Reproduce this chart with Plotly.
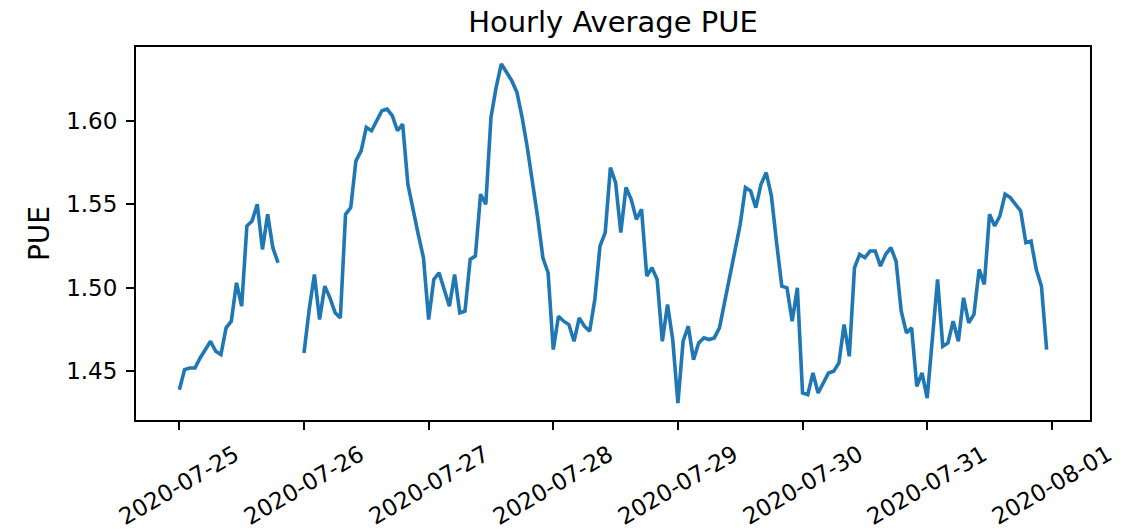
import pandas as pd
import plotly.graph_objects as go

# Hourly average PUE, 2020-07-25 00:00 .. 2020-07-31 23:00 (None = missing hour)
pue_0725 = [1.439, 1.451, 1.452, 1.452, 1.458, 1.463, 1.468, 1.462, 1.460, 1.476, 1.480, 1.503,
            1.489, 1.537, 1.540, 1.550, 1.523, 1.544, 1.524, 1.515, None, None, None, None]
pue_0726 = [1.461, 1.487, 1.508, 1.481, 1.501, 1.494, 1.485, 1.482, 1.544, 1.548, 1.576, 1.582,
            1.596, 1.594, 1.600, 1.606, 1.607, 1.603, 1.594, 1.598, 1.562, 1.546, 1.532, 1.518]
pue_0727 = [1.481, 1.505, 1.509, 1.499, 1.489, 1.508, 1.485, 1.486, 1.517, 1.519, 1.556, 1.550,
            1.602, 1.620, 1.634, 1.629, 1.624, 1.617, 1.602, 1.584, 1.564, 1.542, 1.518, 1.509]
pue_0728 = [1.463, 1.483, 1.480, 1.478, 1.468, 1.482, 1.477, 1.474, 1.493, 1.525, 1.533, 1.572,
            1.563, 1.533, 1.560, 1.553, 1.541, 1.547, 1.507, 1.512, 1.505, 1.468, 1.490, 1.469]
pue_0729 = [1.431, 1.468, 1.477, 1.457, 1.467, 1.470, 1.469, 1.470, 1.476, 1.491, 1.507, 1.522,
            1.538, 1.560, 1.558, 1.548, 1.562, 1.569, 1.555, 1.527, 1.501, 1.500, 1.480, 1.500]
pue_0730 = [1.437, 1.436, 1.449, 1.437, 1.443, 1.449, 1.450, 1.455, 1.478, 1.459, 1.512, 1.520,
            1.518, 1.522, 1.522, 1.513, 1.520, 1.524, 1.516, 1.486, 1.473, 1.476, 1.441, 1.449]
pue_0731 = [1.434, 1.471, 1.505, 1.465, 1.467, 1.480, 1.468, 1.494, 1.479, 1.484, 1.511, 1.502,
            1.544, 1.537, 1.543, 1.556, 1.554, 1.550, 1.546, 1.527, 1.528, 1.511, 1.501, 1.463]

x_tick_labels = ["2020-07-25", "2020-07-26", "2020-07-27", "2020-07-28",
                 "2020-07-29", "2020-07-30", "2020-07-31", "2020-08-01"]
y_tick_values = [1.45, 1.50, 1.55, 1.60]

pue = pue_0725 + pue_0726 + pue_0727 + pue_0728 + pue_0729 + pue_0730 + pue_0731
times = pd.date_range("2020-07-25 00:00", periods=len(pue), freq="h")

# matplotlib-like 5% margins
t0, t1 = times[0], times[-1]
pad_t = (t1 - t0) * 0.05
vals = [v for v in pue if v is not None]
vmin, vmax = min(vals), max(vals)
pad_v = (vmax - vmin) * 0.05

FONT = "DejaVu Sans"
W, H = 1134, 531

fig = go.Figure()
fig.add_trace(go.Scatter(x=times, y=pue, mode="lines", connectgaps=False,
                         line=dict(color="#1f77b4", width=3.6), showlegend=False))

for lab in x_tick_labels:
    fig.add_annotation(x=lab, y=-65 / 373, xref="x", yref="paper", text=lab, showarrow=False,
                       textangle=-30, xanchor="center", yanchor="middle",
                       font=dict(family=FONT, size=23, color="#000"))

fig.update_layout(
    width=W, height=H,
    margin=dict(l=136, r=44, t=47, b=111),
    paper_bgcolor="white", plot_bgcolor="white",
    font=dict(family=FONT, size=23, color="#000"),
    title=dict(text="Hourly Average PUE", x=0.5, xref="paper", xanchor="center",
               y=1 - 22 / H, yref="container", yanchor="middle",
               font=dict(family=FONT, size=29, color="#000")),
)
fig.update_xaxes(range=[t0 - pad_t, t1 + pad_t], type="date",
                 tickvals=x_tick_labels, showticklabels=False,
                 ticks="outside", ticklen=8, tickwidth=2, tickcolor="#000",
                 showline=True, linecolor="#000", linewidth=2, mirror=True,
                 showgrid=False, zeroline=False)
fig.update_yaxes(range=[vmin - pad_v, vmax + pad_v], tickvals=y_tick_values,
                 tickformat=".2f", ticks="outside", ticklen=8, tickwidth=2, tickcolor="#000",
                 ticklabelstandoff=4,
                 showline=True, linecolor="#000", linewidth=2, mirror=True,
                 showgrid=False, zeroline=False,
                 title=dict(text="PUE", standoff=8, font=dict(family=FONT, size=28, color="#000")))

fig.write_html("out.html", config={"displayModeBar": False},
               post_script="document.body.style.margin='0';document.body.style.padding='0';")
